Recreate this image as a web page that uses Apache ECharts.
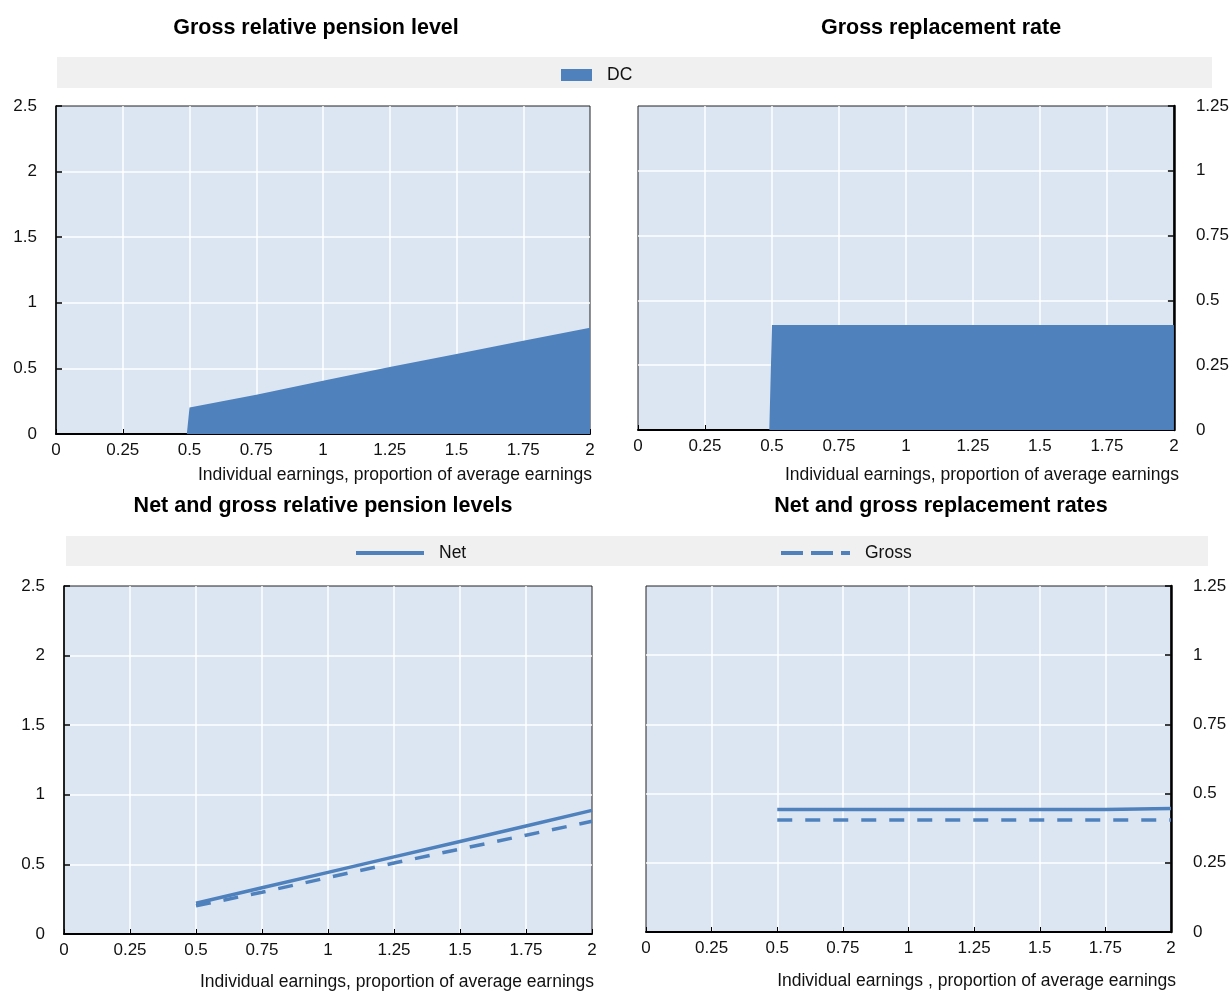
<!DOCTYPE html>
<html>
<head>
<meta charset="utf-8">
<style>
  html, body { margin: 0; padding: 0; background: #ffffff; }
  #chart { width: 1232px; height: 991px; }
</style>
<script src="https://cdn.jsdelivr.net/npm/echarts@6/dist/echarts.min.js"></script>
</head>
<body>
<div id="chart"></div>
<script>
// Individual earnings as a proportion of average earnings
const earnings = [0, 0.49, 0.5, 0.75, 1, 1.25, 1.5, 1.75, 2];
// Gross relative pension level (DC)
const grossLevel = [0, 0, 0.2025, 0.30, 0.405, 0.51, 0.61, 0.71, 0.81];
// Net relative pension level
const netLevel = [null, null, 0.221, 0.332, 0.443, 0.554, 0.665, 0.776, 0.888];
// Gross replacement rate (DC)
const grossRate = [0, 0, 0.405, 0.405, 0.405, 0.405, 0.405, 0.405, 0.405];
// Net replacement rate
const netRate = [null, null, 0.443, 0.443, 0.443, 0.443, 0.443, 0.443, 0.446];

const xTicks = [0, 0.25, 0.5, 0.75, 1, 1.25, 1.5, 1.75, 2];
const levelTicks = [0, 0.5, 1, 1.5, 2, 2.5];
const rateTicks = [0, 0.25, 0.5, 0.75, 1, 1.25];

const titles = [
  'Gross relative pension level',
  'Gross replacement rate',
  'Net and gross relative pension levels',
  'Net and gross replacement rates'
];
const xName = 'Individual earnings, proportion of average earnings';
const xName4 = 'Individual earnings , proportion of average earnings';

const BLUE = '#4f81bd';
const PLOT_BG = '#dce6f2';
const FONT = "'Liberation Sans', Arial, sans-serif";
const TEXT = '#111111';

function pairs(ys, fromHalf) {
  const out = [];
  earnings.forEach((x, i) => {
    if (fromHalf && x < 0.5) return;
    if (ys[i] === null) return;
    out.push([x, ys[i]]);
  });
  return out;
}

const grids = [
  { left: 56, top: 106, width: 534, height: 328 },
  { left: 638, top: 106, width: 537, height: 324 },
  { left: 64, top: 586, width: 528, height: 350 },
  { left: 646, top: 586, width: 525, height: 346 }
].map(g => Object.assign({
  show: true, backgroundColor: PLOT_BG, borderColor: '#222', borderWidth: 1
}, g));

const xNames = [xName, xName, xName, xName4];
const xNameGaps = [32, 36, 39, 40];
const xAxes = grids.map((g, i) => ({
  type: 'value', gridIndex: i, min: xTicks[0], max: xTicks[xTicks.length - 1],
  interval: xTicks[1] - xTicks[0],
  name: xNames[i], nameLocation: 'end', nameGap: 0,
  nameTextStyle: {
    fontFamily: FONT, fontSize: 17.5, color: TEXT,
    align: 'right', verticalAlign: 'top',
    padding: [xNameGaps[i], i % 2 ? -5 : -2, 0, 0]
  },
  axisLine: { show: true, onZero: false, lineStyle: { color: '#000', width: 2 } },
  axisTick: { show: true, inside: true, length: 5, lineStyle: { color: '#000', width: 1 } },
  axisLabel: { fontFamily: FONT, fontSize: 17, color: TEXT, margin: 8 },
  splitLine: { show: true, showMinLine: false, showMaxLine: false, lineStyle: { color: '#ffffff', width: 1.5 } }
}));

const yAxes = grids.map((g, i) => {
  const ticks = i % 2 ? rateTicks : levelTicks;
  return {
    type: 'value', gridIndex: i, position: i % 2 ? 'right' : 'left',
    min: ticks[0], max: ticks[ticks.length - 1], interval: ticks[1] - ticks[0],
    axisLine: { show: true, onZero: false, lineStyle: { color: '#000', width: i % 2 ? 2.5 : 1.5 } },
    axisTick: { show: true, inside: true, length: 6, lineStyle: { color: '#000', width: 1.5 } },
    axisLabel: { fontFamily: FONT, fontSize: 17, color: TEXT, margin: i % 2 ? 22 : 19 },
    splitLine: { show: true, showMinLine: false, showMaxLine: false, lineStyle: { color: '#ffffff', width: 1.5 } }
  };
});

const titleCenters = [
  { x: 316, y: 17 }, { x: 941, y: 17 }, { x: 323, y: 495 }, { x: 941, y: 495 }
];

const legendText = { fontFamily: FONT, fontSize: 17.5, color: TEXT, padding: [0, 0, 0, 10] };

const option = {
  animation: false,
  backgroundColor: '#ffffff',
  graphic: [
    { type: 'rect', left: 57, top: 57, shape: { width: 1155, height: 31 }, style: { fill: '#f0f0f0' }, z: -10 },
    { type: 'rect', left: 66, top: 536, shape: { width: 1142, height: 30 }, style: { fill: '#f0f0f0' }, z: -10 }
  ],
  title: titles.map((t, i) => ({
    text: t, left: titleCenters[i].x, top: titleCenters[i].y, textAlign: 'center', padding: 0,
    textStyle: { fontFamily: FONT, fontSize: 21.5, fontWeight: 'bold', color: '#000' }
  })),
  legend: [
    {
      data: [{ name: 'DC', icon: 'rect' }], left: 561, top: 66, padding: 0,
      itemWidth: 31, itemHeight: 12, selectedMode: false, textStyle: legendText
    },
    {
      data: [{ name: 'Net', icon: 'path://M0,0h68v4h-68z' }], left: 356, top: 544, padding: 0,
      itemWidth: 68, itemHeight: 4, selectedMode: false, textStyle: legendText
    },
    {
      data: [{ name: 'Gross', icon: 'path://M0,0h22v4h-22z M30,0h22v4h-22z M60,0h9v4h-9z' }],
      left: 781, top: 544, padding: 0,
      itemWidth: 69, itemHeight: 4, selectedMode: false, textStyle: legendText
    }
  ],
  grid: grids,
  xAxis: xAxes,
  yAxis: yAxes,
  series: [
    {
      name: 'DC', type: 'line', xAxisIndex: 0, yAxisIndex: 0, symbol: 'none',
      data: pairs(grossLevel, false), color: BLUE,
      lineStyle: { width: 0 }, areaStyle: { color: BLUE, opacity: 1 }
    },
    {
      name: 'DC', type: 'line', xAxisIndex: 1, yAxisIndex: 1, symbol: 'none',
      data: pairs(grossRate, false), color: BLUE,
      lineStyle: { width: 0 }, areaStyle: { color: BLUE, opacity: 1 }
    },
    {
      name: 'Net', type: 'line', xAxisIndex: 2, yAxisIndex: 2, symbol: 'none',
      data: pairs(netLevel, true), color: BLUE,
      lineStyle: { width: 3.5, color: BLUE }
    },
    {
      name: 'Gross', type: 'line', xAxisIndex: 2, yAxisIndex: 2, symbol: 'none',
      data: pairs(grossLevel, true), color: BLUE,
      lineStyle: { width: 3.5, color: BLUE, type: [15, 13] }
    },
    {
      name: 'Net', type: 'line', xAxisIndex: 3, yAxisIndex: 3, symbol: 'none',
      data: pairs(netRate, true), color: BLUE,
      lineStyle: { width: 3.5, color: BLUE }
    },
    {
      name: 'Gross', type: 'line', xAxisIndex: 3, yAxisIndex: 3, symbol: 'none',
      data: pairs(grossRate, true), color: BLUE,
      lineStyle: { width: 3.5, color: BLUE, type: [15, 13] }
    }
  ]
};

const chart = echarts.init(document.getElementById('chart'), null, { renderer: 'canvas' });
chart.setOption(option);
</script>
</body>
</html>
